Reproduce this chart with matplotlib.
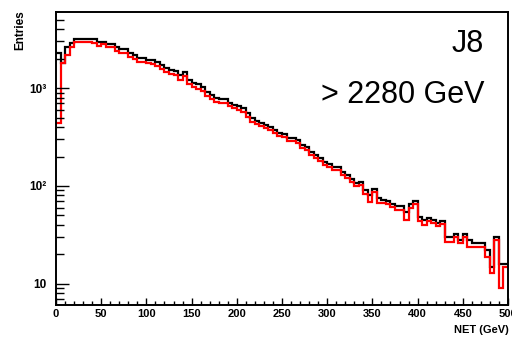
import numpy as np
import matplotlib
matplotlib.use('Agg')
import matplotlib.pyplot as plt
from matplotlib.ticker import FixedLocator, FixedFormatter, MultipleLocator, NullFormatter

plt.rcParams['font.family'] = ['Liberation Sans', 'DejaVu Sans']

# NET histogram, 100 bins of 5 GeV from 0 to 500
bin_edges = np.linspace(0, 500, 101)

# all events (black)
net_all = [2270, 1800, 2620, 2880, 3160, 3150, 3170, 3140, 3160, 2950,
           2940, 2810, 2800, 2620, 2500, 2490, 2270, 2170, 2020, 2020,
           1930, 1925, 1840, 1710, 1600, 1520, 1490, 1350, 1450, 1200,
           1120, 1095, 1020, 907, 846, 788, 770, 770, 700, 668,
           653, 623, 554, 491, 459, 438, 418, 399, 371, 346,
           338, 308, 308, 294, 261, 249, 221, 206, 192, 175,
           167, 156, 156, 138, 129, 117, 107, 109, 91, 81,
           93, 76, 72, 70, 65, 62, 62, 54, 65, 70,
           48, 45, 47, 45, 42, 44, 30, 30, 32, 28,
           32, 28, 26, 26, 26, 22, 15, 30, 16, 16]

# events passing the cut (red)
net_cut = [438, 1796, 2169, 2619, 2946, 2946, 2940, 2950, 2877, 2681,
           2810, 2619, 2619, 2383, 2273, 2270, 2069, 1974, 1839, 1840,
           1796, 1754, 1673, 1559, 1453, 1386, 1353, 1203, 1322, 1095,
           1021, 974, 929, 826, 770, 717, 701, 700, 653, 623,
           594, 567, 503, 448, 428, 408, 389, 371, 346, 323,
           315, 287, 287, 274, 244, 232, 206, 192, 179, 163,
           156, 145, 145, 129, 120, 109, 100, 102, 83, 69,
           87, 67, 67, 65, 61, 57, 57, 45, 60, 65,
           44, 40, 44, 42, 39, 41, 27, 27, 30, 26,
           30, 24, 24, 24, 24, 19, 13, 28, 9, 15]

y_ticks = [10, 100, 1000]
y_tick_labels = ['10', '10\u00b2', '10\u00b3']

fig = plt.figure(figsize=(5.12, 3.37), dpi=100)
ax = fig.add_axes([56/512, 1 - 305/337, 452/512, 293/337])

ax.stairs(net_all, bin_edges, baseline=None, color='black', linewidth=1.6)
ax.stairs(net_cut, bin_edges, baseline=None, color='#ff0000', linewidth=1.6)

ax.set_yscale('log')
ax.set_xlim(0, 500)
ax.set_ylim(6.1, 5970)

ax.yaxis.set_major_locator(FixedLocator(y_ticks))
ax.yaxis.set_major_formatter(FixedFormatter(y_tick_labels))
minor_y = [m * 10 ** d for d in range(0, 4) for m in range(2, 10)]
ax.yaxis.set_minor_locator(FixedLocator(minor_y))
ax.yaxis.set_minor_formatter(NullFormatter())

ax.xaxis.set_major_locator(MultipleLocator(50))
ax.xaxis.set_minor_locator(MultipleLocator(10))

ax.tick_params(axis='both', which='both', direction='in', top=False, right=False, width=1)
ax.tick_params(axis='y', which='major', length=9.5, pad=6.5, labelsize=8.5)
ax.tick_params(axis='y', which='minor', length=5.8)
ax.tick_params(axis='x', which='major', length=5, pad=3, labelsize=8)
ax.tick_params(axis='x', which='minor', length=2.8)
for lab in ax.get_xticklabels() + ax.get_yticklabels():
    lab.set_fontweight('bold')

for sp in ax.spines.values():
    sp.set_linewidth(1.4)

ax.text(0.947, 0.89, 'J8', transform=ax.transAxes, ha='right', va='center', fontsize=22)
ax.text(0.947, 0.717, '> 2280 GeV', transform=ax.transAxes, ha='right', va='center', fontsize=22)

fig.text(20/512, 1 - 10/337, 'Entries', rotation=90, ha='center', va='top', fontsize=8.5, fontweight='bold')
fig.text(509/512, 1 - 335/337, 'NET (GeV)', ha='right', va='bottom', fontsize=8, fontweight='bold')

fig.savefig('out.png', dpi=100)
